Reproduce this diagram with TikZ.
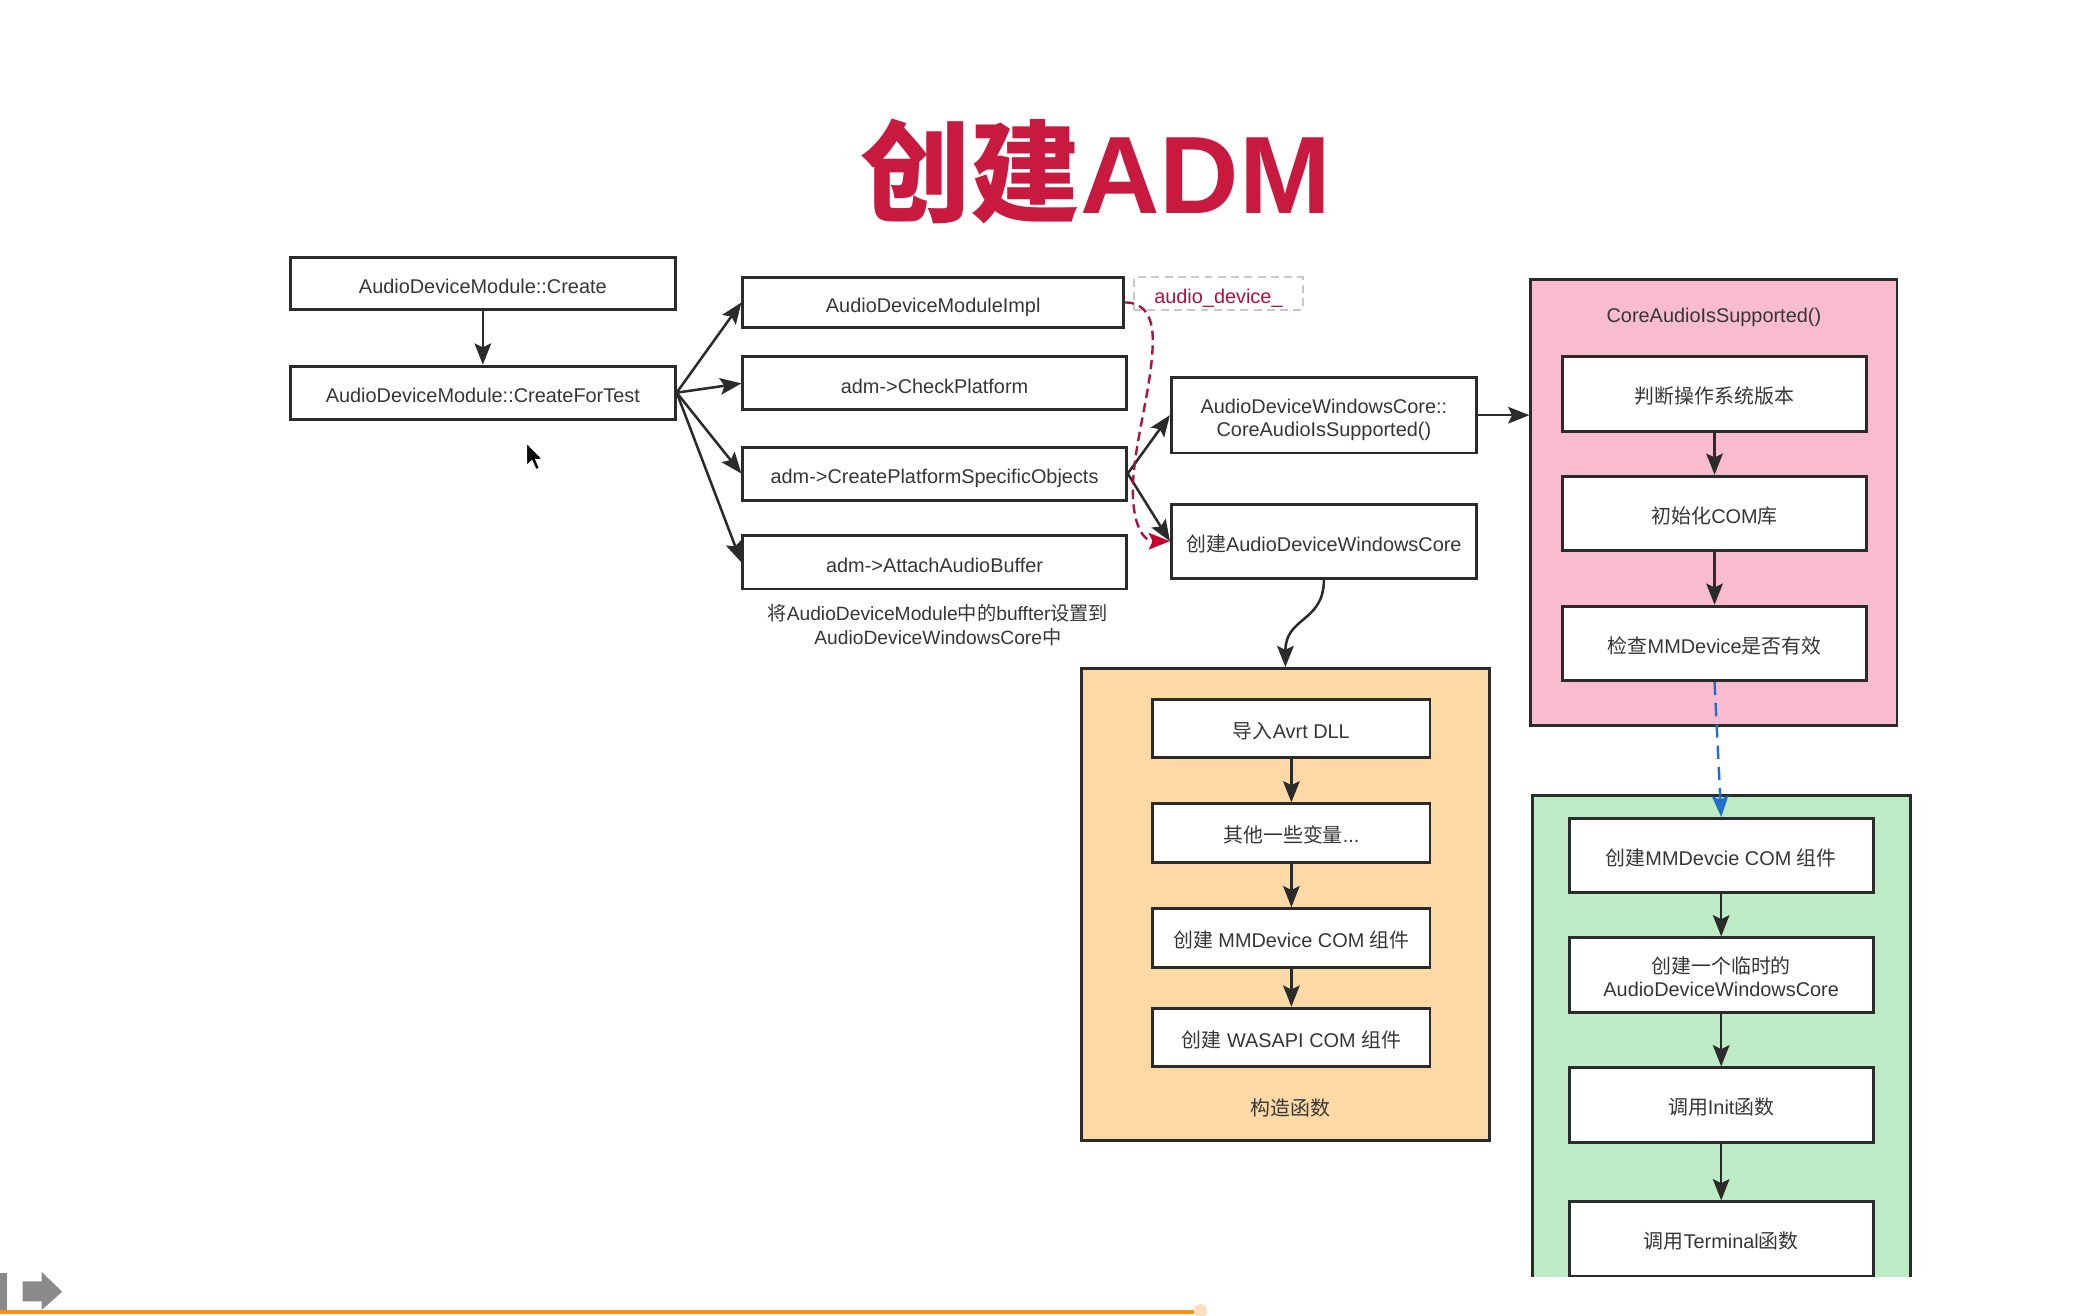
\documentclass[tikz,border=0pt]{standalone}
\usepackage{fontspec}
\setmainfont{Liberation Sans}
\newfontfamily\cjk{Noto Sans CJK SC}
\usetikzlibrary{arrows.meta}
\definecolor{titlered}{HTML}{C8193F}
\definecolor{pinkfill}{HTML}{F9BCCE}
\definecolor{orangefill}{HTML}{FDD9A6}
\definecolor{greenfill}{HTML}{BDEBC5}
\definecolor{edge}{HTML}{2B2B2B}
\definecolor{txt}{HTML}{363636}
\definecolor{reddash}{HTML}{A8143E}
\definecolor{redtip}{HTML}{C4002D}
\definecolor{bluedash}{HTML}{1F6FCB}
\definecolor{progress}{HTML}{FF9012}
\definecolor{icongray}{HTML}{8A8A8A}
\definecolor{graydash}{HTML}{C8C8C8}
\newcommand\zh[1]{{\cjk #1}}
\begin{document}
\begin{tikzpicture}[x=1pt,y=-1pt,
  box/.style={draw=edge,line width=2.2pt,fill=white,inner sep=0pt,align=center,text=txt,
    font=\fontsize{15}{17.6}\selectfont,text height=14.8pt,text depth=0pt},
  twoline/.style={text height=32.6pt,text depth=0pt},
  container/.style={draw=edge,line width=2.2pt,inner sep=0pt},
  tipshape/.style={-{Stealth[length=16pt,width=12.5pt,inset=3pt,#1]}},
  arr/.style={draw=edge,line width=1.9pt,tipshape=},
  lbl/.style={text=txt,align=center,font=\fontsize{15}{19}\selectfont,inner sep=0pt},
]
\useasboundingbox[fill=white] (0,0) rectangle (1568,992);

% title
\node[anchor=base,text=titlered,inner sep=0pt,font=\fontsize{83}{90}\selectfont\bfseries] (title) at (826,161) {{\cjk 创建}ADM};

% left column
\node[box,minimum width=290,minimum height=39] (create) at (364,213.5) {AudioDeviceModule::Create};
\node[box,minimum width=290,minimum height=40] (test) at (364,296) {AudioDeviceModule::CreateForTest};

% middle column
\node[box,minimum width=287,minimum height=38] (impl) at (703.5,228) {AudioDeviceModuleImpl};
\node[box,minimum width=289,minimum height=40] (check) at (704.5,289) {adm->CheckPlatform};
\node[box,minimum width=289,minimum height=40] (cpso) at (704.5,357) {adm->CreatePlatformSpecificObjects};
\node[box,minimum width=289,minimum height=40] (attach) at (704.5,424) {adm->AttachAudioBuffer};
\node[lbl,font=\fontsize{14.5}{18}\selectfont] (cap1) at (707,471) {\zh{将}AudioDeviceModule\zh{中的}buffter\zh{设置到}\\AudioDeviceWindowsCore\zh{中}};

\node[draw=graydash,line width=1.5pt,dash pattern=on 6pt off 4pt,minimum width=127,minimum height=25,inner sep=0pt,text=reddash,font=\fontsize{15}{19}\selectfont,text height=14.4pt,text depth=0pt] (ad) at (918.5,221.5) {audio\_device\_};

% windows core boxes
\node[box,twoline,minimum width=230,minimum height=57] (support) at (998,313) {AudioDeviceWindowsCore::\\CoreAudioIsSupported()};
\node[box,minimum width=230,minimum height=56] (mkcore) at (998,408) {\zh{创建}AudioDeviceWindowsCore};

% pink container
\node[container,fill=pinkfill,minimum width=276,minimum height=336] (pink) at (1292,379) {};
\node[lbl] (pinktitle) at (1292,239.5) {CoreAudioIsSupported()};
\node[box,minimum width=229,minimum height=56] (p1) at (1292.5,297) {\zh{判断操作系统版本}};
\node[box,minimum width=229,minimum height=56] (p2) at (1292.5,387) {\zh{初始化}COM\zh{库}};
\node[box,minimum width=229,minimum height=56] (p3) at (1292.5,485) {\zh{检查}MMDevice\zh{是否有效}};

% orange container
\node[container,fill=orangefill,minimum width=308,minimum height=356] (orange) at (969,682) {};
\node[box,minimum width=209,minimum height=44] (o1) at (973.5,549) {\zh{导入}Avrt DLL};
\node[box,minimum width=209,minimum height=44] (o2) at (973.5,628) {\zh{其他一些变量}...};
\node[box,minimum width=209,minimum height=44] (o3) at (973.5,707) {\zh{创建} MMDevice COM \zh{组件}};
\node[box,minimum width=209,minimum height=44] (o4) at (973.5,782) {\zh{创建} WASAPI COM \zh{组件}};
\node[lbl] (ocap) at (973,835) {\zh{构造函数}};

% green container (clipped at the bottom)
\begin{scope}
\clip (0,0) rectangle (1568,962);
\node[container,fill=greenfill,minimum width=285,minimum height=420] (green) at (1297.5,810) {};
\node[box,minimum width=229,minimum height=56] (g1) at (1297.5,645) {\zh{创建}MMDevcie COM \zh{组件}};
\node[box,twoline,minimum width=229,minimum height=56] (g2) at (1297.5,735) {\zh{创建一个临时的}\\AudioDeviceWindowsCore};
\node[box,minimum width=229,minimum height=56] (g3) at (1297.5,833) {\zh{调用}Init\zh{函数}};
\node[box,minimum width=229,minimum height=56] (g4) at (1297.5,934) {\zh{调用}Terminal\zh{函数}};
\draw[arr] (g3.south) -- (g4.north);
\end{scope}

% connectors
\draw[arr] (create.south) -- (test.north);
\draw[arr] (test.east) -- (impl.west);
\draw[arr] (test.east) -- (check.west);
\draw[arr] (test.east) -- (cpso.west);
\draw[arr] (test.east) -- (attach.west);
\draw[arr] (cpso.east) -- (support.west);
\draw[arr] (cpso.east) -- (mkcore.west);
\draw[arr] (support.east) -- (pink.west |- support.east);
\draw[arr] (mkcore.south) .. controls ([yshift=-32pt]mkcore.south) and ([yshift=38pt]orange.north) .. (orange.north);
\draw[arr] (p1.south) -- (p2.north);
\draw[arr] (p2.south) -- (p3.north);
\draw[arr] (o1.south) -- (o2.north);
\draw[arr] (o2.south) -- (o3.north);
\draw[arr] (o3.south) -- (o4.north);
\draw[arr] (g1.south) -- (g2.north);
\draw[arr] (g2.south) -- (g3.north);
\draw[draw=reddash,line width=1.8pt,dash pattern=on 7pt off 4pt,tipshape={color=redtip}]
  (impl.east) .. controls (862,228) and (869,238) .. (869,256)
  .. controls (869,292) and (854,335) .. (854,370)
  .. controls (854,398) and (863,408) .. (mkcore.west);
\draw[draw=bluedash,line width=1.8pt,dash pattern=on 10pt off 6pt,tipshape=] (p3.south) -- (g1.north);

% mouse cursor
\coordinate (cur) at (397,334);
\filldraw[fill=black,draw=white,line width=0.8pt,shift={(cur)}]
  (0,0) -- (0,17) -- (4,13.2) -- (7,20) -- (9.6,18.8) -- (6.8,12.3) -- (12,12.3) -- cycle;

% video player bar
\fill[icongray] (0,960) rectangle (5,987.6);
\fill[icongray] (17,966) -- (31.3,966) -- (31.3,958.7) -- (46.9,973.8) -- (31.3,987.6) -- (31.3,981) -- (17,981) -- cycle;
\draw[progress,line width=2.6pt] (0,989) -- (900,989);
\fill[orange!25] (905,988) circle (5);
\end{tikzpicture}
\end{document}
